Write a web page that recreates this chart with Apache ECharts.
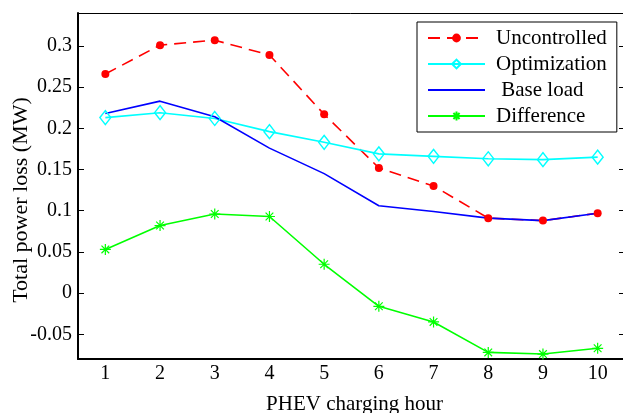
<!DOCTYPE html>
<html>
<head>
<meta charset="utf-8">
<script src="https://cdn.jsdelivr.net/npm/echarts@6/dist/echarts.min.js"></script>
<style>
  html, body { margin: 0; padding: 0; background: #fff; }
  #chart { width: 623px; height: 413px; }
</style>
</head>
<body>
<div id="chart"></div>
<script>
const hours = ['1', '2', '3', '4', '5', '6', '7', '8', '9', '10'];
const uncontrolled = [0.266, 0.301, 0.307, 0.289, 0.217, 0.152, 0.130, 0.091, 0.088, 0.097];
const optimization = [0.213, 0.219, 0.212, 0.196, 0.183, 0.169, 0.166, 0.163, 0.162, 0.165];
const baseLoad = [0.218, 0.233, 0.214, 0.176, 0.145, 0.106, 0.099, 0.091, 0.088, 0.097];
const difference = [0.053, 0.082, 0.096, 0.093, 0.035, -0.016, -0.035, -0.072, -0.074, -0.067];
const yTicks = [-0.05, 0, 0.05, 0.1, 0.15, 0.2, 0.25, 0.3];

const font = 'Liberation Serif';
const asterisk = 'path://M5,0 L5,10 M0,5 L10,5 M1.5,1.5 L8.5,8.5 M8.5,1.5 L1.5,8.5';

const chart = echarts.init(document.getElementById('chart'), null, { renderer: 'canvas' });

const frameX = {
  type: 'category',
  data: hours,
  boundaryGap: true,
  axisLine: { onZero: false, lineStyle: { color: '#000', width: 2 } },
  axisTick: { inside: true, alignWithLabel: true, length: 6, lineStyle: { color: '#000', width: 1 } },
  splitLine: { show: false }
};

chart.setOption({
  animation: false,
  backgroundColor: '#fff',
  textStyle: { fontFamily: font, color: '#000' },
  grid: { left: 78, top: 13, width: 547, height: 346, outerBoundsMode: 'none', containLabel: false },
  legend: {
    orient: 'vertical',
    left: 417,
    top: 22,
    padding: [5, 10, 5, 10],
    itemWidth: 57,
    itemHeight: 11,
    itemGap: 4,
    backgroundColor: '#fff',
    borderColor: '#000',
    borderWidth: 1,
    textStyle: { fontFamily: font, fontSize: 21, lineHeight: 22, color: '#000', padding: [0, 0, 0, 6] },
    data: [
      'Uncontrolled',
      'Optimization',
      { name: ' Base load', itemStyle: { opacity: 0 } },
      'Difference'
    ]
  },
  xAxis: [
    Object.assign({}, frameX, {
      position: 'bottom',
      name: 'PHEV charging hour',
      nameLocation: 'middle',
      nameGap: 35,
      nameTextStyle: { fontFamily: font, fontSize: 21, color: '#000', padding: [0, 0, 0, 6] },
      axisLabel: { margin: 5, fontFamily: font, fontSize: 20, color: '#000' }
    }),
    Object.assign({}, frameX, {
      position: 'top',
      axisLine: { onZero: false, lineStyle: { color: '#000', width: 1 } },
      axisLabel: { show: false }
    })
  ],
  yAxis: [
    {
      type: 'value',
      min: -0.08,
      max: 0.34,
      position: 'left',
      name: 'Total power loss (MW)',
      nameLocation: 'middle',
      nameGap: 46,
      nameMoveOverlap: false,
      nameTextStyle: { fontFamily: font, fontSize: 22, color: '#000', padding: [0, 28, 0, 0] },
      axisLine: { show: true, onZero: false, lineStyle: { color: '#000', width: 2 } },
      axisTick: { show: true, inside: true, length: 6, customValues: yTicks, lineStyle: { color: '#000' } },
      axisLabel: { margin: 6, fontFamily: font, fontSize: 20, color: '#000', customValues: yTicks },
      splitLine: { show: false }
    },
    {
      type: 'value',
      min: -0.08,
      max: 0.34,
      position: 'right',
      axisLine: { show: true, onZero: false, lineStyle: { color: '#000', width: 1 } },
      axisTick: { show: true, inside: true, length: 6, customValues: yTicks, lineStyle: { color: '#000' } },
      axisLabel: { show: false },
      splitLine: { show: false }
    }
  ],
  series: [
    {
      name: 'Uncontrolled',
      type: 'line',
      data: uncontrolled,
      symbol: 'circle',
      symbolSize: 8,
      itemStyle: { color: '#ff0000' },
      lineStyle: { color: '#ff0000', width: 1.6, type: [12, 7] }
    },
    {
      name: 'Optimization',
      type: 'line',
      data: optimization,
      symbol: 'diamond',
      symbolSize: [11, 14],
      itemStyle: { color: 'rgba(0,0,0,0)', borderColor: '#00ffff', borderWidth: 1.4 },
      lineStyle: { color: '#00ffff', width: 1.6 }
    },
    {
      name: ' Base load',
      type: 'line',
      data: baseLoad,
      symbol: 'none',
      itemStyle: { color: '#0000ff' },
      lineStyle: { color: '#0000ff', width: 1.6 }
    },
    {
      name: 'Difference',
      type: 'line',
      data: difference,
      symbol: asterisk,
      symbolSize: 11,
      itemStyle: { color: '#00ff00', borderColor: '#00ff00', borderWidth: 1.2 },
      lineStyle: { color: '#00ff00', width: 1.6 }
    }
  ]
});
</script>
</body>
</html>
